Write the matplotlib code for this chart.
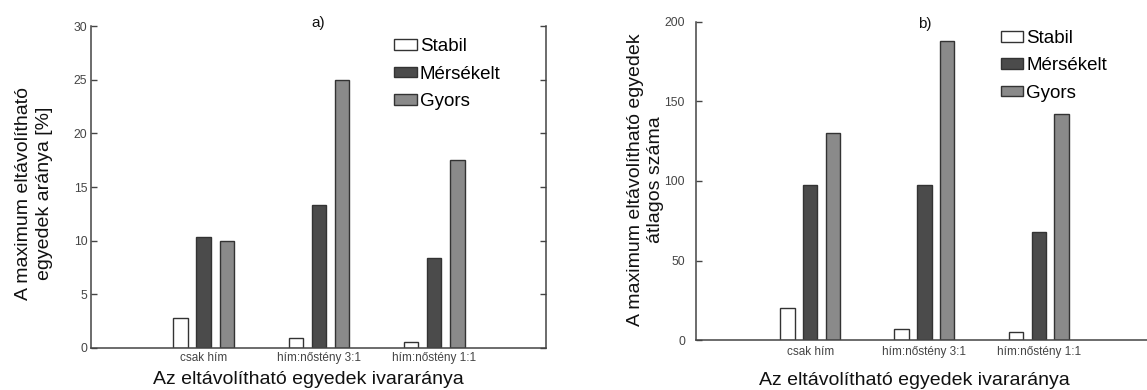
import matplotlib
matplotlib.use("Agg")
import matplotlib.pyplot as plt
import numpy as np

plt.rcParams['font.family'] = ['Liberation Sans', 'DejaVu Sans']

# adatok
categories = ['csak hím', 'hím:nőstény 3:1', 'hím:nőstény 1:1']
series = ['Stabil', 'Mérsékelt', 'Gyors']

# a) eltávolítható egyedek aránya [%]
pct_stabil = [2.8, 0.9, 0.6]
pct_merseklet = [10.3, 13.3, 8.4]
pct_gyors = [10.0, 25.0, 17.5]

# b) eltávolítható egyedek átlagos száma
num_stabil = [20, 7, 5]
num_merseklet = [97.5, 97.5, 68]
num_gyors = [130, 188, 142]

colors = ['white', '#4b4b4b', '#8a8a8a']
edge = '#333333'
spine_col = '#444444'


def draw_panel(ax, values, ylim, yticks, title, ytick_pad, xtick_pad):
    x = np.arange(1, len(categories) + 1)
    offsets = [-0.2, 0.0, 0.2]
    for vals, off, col, name in zip(values, offsets, colors, series):
        ax.bar(x + off, vals, width=0.125, color=col, edgecolor=edge,
               linewidth=1.0, label=name)
    ax.set_ylim(*ylim)
    ax.set_yticks(yticks)
    ax.set_xticks(x)
    ax.set_xticklabels(categories)
    ax.spines['top'].set_visible(False)
    for s in ax.spines.values():
        s.set_color(spine_col)
        s.set_linewidth(1.1)
    ax.tick_params(axis='y', direction='in', length=4, width=1,
                   colors=spine_col, labelsize=8.7, pad=ytick_pad)
    ax.tick_params(axis='x', length=0, colors=spine_col,
                   labelsize=8.5, pad=xtick_pad)
    ax.text(0.5, title[1], title[0], transform=ax.transAxes,
            ha='center', va='center', fontsize=11, color='#111111')
    leg = ax.legend(loc='upper left', bbox_to_anchor=(0.667, title[2]),
                    frameon=False, fontsize=13.5, handlelength=1.2,
                    handleheight=0.5, handletextpad=0.15, labelspacing=0.55,
                    borderpad=0, borderaxespad=0)
    for h in leg.legend_handles:
        h.set_edgecolor(edge)
    return ax


fig = plt.figure(figsize=(11.47, 3.90), dpi=100)

# a) panel
ax1 = fig.add_axes([0.0791, 0.1077, 0.397, 0.8256])
draw_panel(ax1, [pct_stabil, pct_merseklet, pct_gyors], (0, 30),
           [0, 5, 10, 15, 20, 25, 30], ('a)', 1.008, 0.962), 2.5, 3)
ax1.set_xlim(0.02, 3.97)
ax1.tick_params(axis='y', right=True)
ax1.set_ylabel('A maximum eltávolítható\negyedek aránya [%]', fontsize=14,
               linespacing=1.3, color='#111111')
ax1.yaxis.set_label_coords(-0.124, 0.481)
ax1.yaxis.label.set_verticalalignment('center')
ax1.set_xlabel('Az eltávolítható egyedek ivararánya', fontsize=14,
               color='#111111')
ax1.xaxis.set_label_coords(0.477, -0.099)
ax1.xaxis.label.set_verticalalignment('center')

# b) panel (a jobb oldali tengely kilóg a képből)
ax2 = fig.add_axes([0.6068, 0.1282, 0.3984, 0.8154])
draw_panel(ax2, [num_stabil, num_merseklet, num_gyors], (0, 200),
           [0, 50, 100, 150, 200], ('b)', 0.995, 0.975), 8, 4)
ax2.set_xlim(0, 4)
ax2.spines['right'].set_visible(False)
ax2.set_ylabel('A maximum eltávolítható egyedek\nátlagos száma', fontsize=14,
               linespacing=1.25, color='#111111')
ax2.yaxis.set_label_coords(-0.1105, 0.503)
ax2.yaxis.label.set_verticalalignment('center')
ax2.set_xlabel('Az eltávolítható egyedek ivararánya', fontsize=14,
               color='#111111')
ax2.xaxis.set_label_coords(0.477, -0.126)
ax2.xaxis.label.set_verticalalignment('center')

fig.savefig('out.png', dpi=100)
